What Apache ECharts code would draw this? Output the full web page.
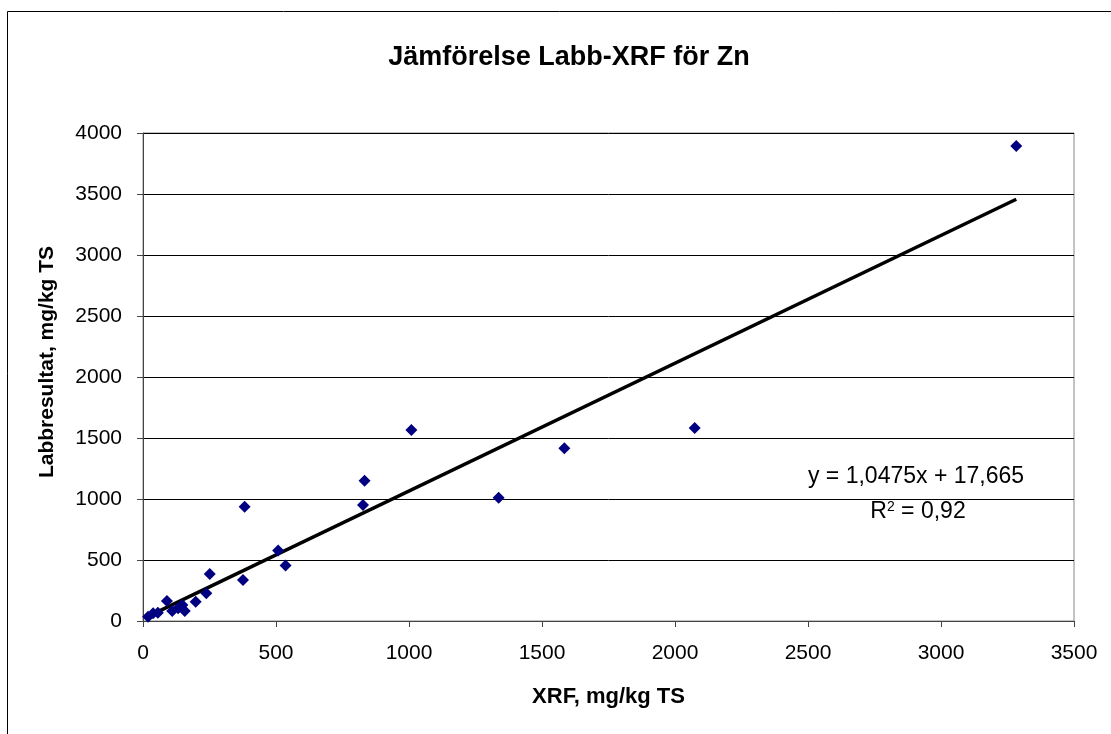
<!DOCTYPE html>
<html>
<head>
<meta charset="utf-8">
<script src="https://cdn.jsdelivr.net/npm/echarts@6/dist/echarts.min.js"></script>
<style>
  html, body { margin: 0; padding: 0; background: #fff; }
  #chart { width: 1111px; height: 734px; }
</style>
</head>
<body>
<div id="chart"></div>
<script>
  // XRF vs labb, Zn (mg/kg TS)
  var xrf  = [19, 38, 56, 90, 110, 132, 148, 157, 198, 238, 251, 376, 382, 508, 536, 827, 833, 1009, 1337, 1584, 2074, 3283];
  var labb = [35, 63, 68, 164, 82, 104, 131, 82, 158, 227, 385, 336, 937, 578, 455, 951, 1150, 1566, 1011, 1416, 1582, 3893];
  var xTicks = [0, 500, 1000, 1500, 2000, 2500, 3000, 3500];
  var yTicks = [0, 500, 1000, 1500, 2000, 2500, 3000, 3500, 4000];
  var slope = 1.0475, intercept = 17.665;

  var points = xrf.map(function (x, i) { return [x, labb[i]]; });
  var xMin = Math.min.apply(null, xrf), xMax = Math.max.apply(null, xrf);
  var trend = [[xMin, slope * xMin + intercept], [xMax, slope * xMax + intercept]];

  var font = 'Liberation Sans, Arial, sans-serif';
  var plain = function (v) { return String(v); };
  var myChart = echarts.init(document.getElementById('chart'));
  myChart.setOption({
    animation: false,
    backgroundColor: '#fff',
    title: {
      text: 'Jämförelse Labb-XRF för Zn',
      left: 564, top: 39, textAlign: 'center',
      textStyle: { fontFamily: font, fontSize: 27, fontWeight: 'bold', color: '#000' }
    },
    grid: { left: 143, top: 133, right: 37, bottom: 113, show: true, borderColor: '#888', borderWidth: 1 },
    xAxis: {
      type: 'value', min: xTicks[0], max: xTicks[xTicks.length - 1], interval: 500,
      name: 'XRF, mg/kg TS', nameLocation: 'middle', nameGap: 65,
      nameTextStyle: { fontFamily: font, fontSize: 22, fontWeight: 'bold', color: '#000' },
      axisLine: { show: true, lineStyle: { color: '#444', width: 1 } },
      axisTick: { show: true, inside: false, length: 6, lineStyle: { color: '#444', width: 1 } },
      axisLabel: { fontFamily: font, fontSize: 21, color: '#000', margin: 22, formatter: plain },
      splitLine: { show: false }
    },
    yAxis: {
      type: 'value', min: yTicks[0], max: yTicks[yTicks.length - 1], interval: 500,
      axisLine: { show: true, lineStyle: { color: '#444', width: 1 } },
      axisTick: { show: true, inside: false, length: 6, lineStyle: { color: '#444', width: 1 } },
      axisLabel: { fontFamily: font, fontSize: 21, color: '#000', margin: 21, formatter: plain },
      splitLine: { show: true, lineStyle: { color: '#000', width: 1 } }
    },
    series: [
      {
        type: 'line', data: trend, showSymbol: false, symbol: 'none',
        lineStyle: { color: '#000', width: 3.5 }, z: 2
      },
      {
        type: 'scatter', data: points, symbol: 'diamond', symbolSize: 12,
        itemStyle: { color: '#000080', opacity: 1 }, z: 3
      }
    ],
    graphic: [
      {
        type: 'rect', silent: true, z: -1,
        shape: { x: 7.5, y: 11.5, width: 1200, height: 800 },
        style: { fill: 'none', stroke: '#000', lineWidth: 1 }
      },
      {
        type: 'text', x: 47, y: 362, rotation: Math.PI / 2, z: 10,
        style: {
          text: 'Labbresultat, mg/kg TS', font: 'bold 21px ' + font, fill: '#000',
          textAlign: 'center', textVerticalAlign: 'middle'
        }
      },
      {
        type: 'text', x: 916, y: 477, z: 10,
        style: {
          text: 'y = 1,0475x + 17,665', font: '23px ' + font, fill: '#000',
          textAlign: 'center', textVerticalAlign: 'middle'
        }
      },
      {
        type: 'text', x: 918, y: 512, z: 10,
        style: {
          text: 'R{sup|2} = 0,92',
          font: '23px ' + font, fill: '#000',
          textAlign: 'center', textVerticalAlign: 'middle',
          rich: { sup: { fontSize: 14, fontFamily: font, verticalAlign: 'top', padding: [0, 0, 10, 0] } }
        }
      }
    ]
  });
</script>
</body>
</html>
